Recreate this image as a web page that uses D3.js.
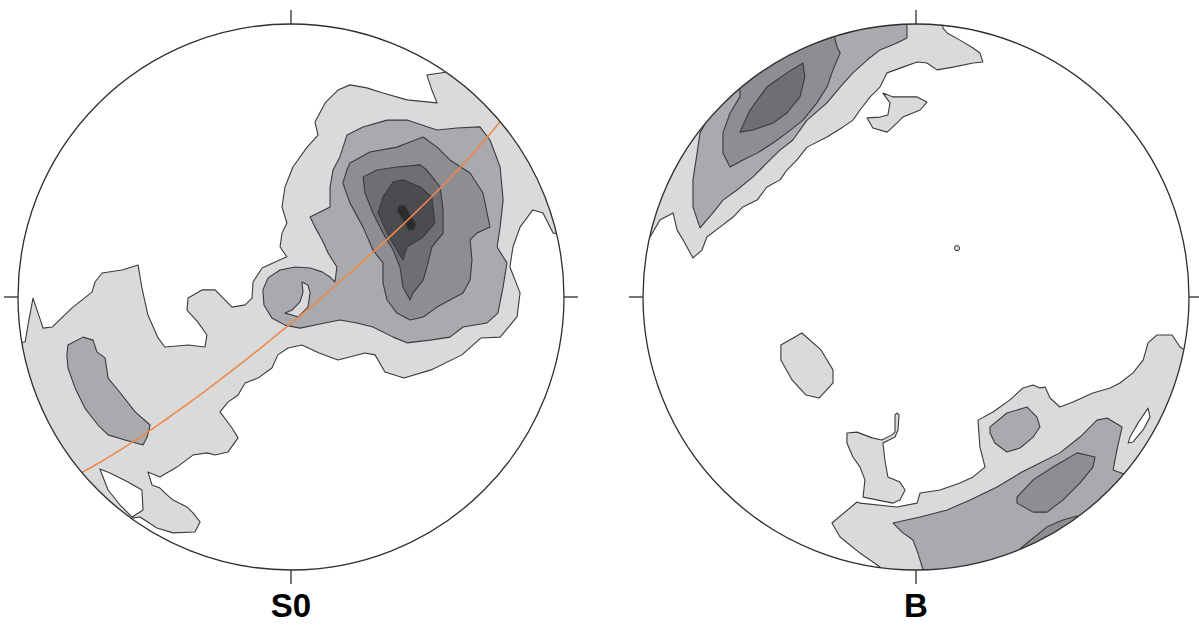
<!DOCTYPE html>
<html>
<head>
<meta charset="utf-8">
<script src="https://cdn.jsdelivr.net/npm/d3@7"></script>
<style>
  body { margin: 0; background: #fff; }
  .net--label { font-family: "Liberation Sans", Arial, sans-serif; font-weight: bold; font-size: 33px; }
</style>
</head>
<body>
<div id="chart"></div>
<script>
// Stereonets: contour polygons in net units (unit circle, north up)
const netLabels = ["S0", "B"];

// --- S0 contours ---
const s0Level1 = [[0.571,0.824],[0.637,0.905],[1.132,0.538],[1.077,0.227],[0.960,0.234],[0.923,0.308],[0.886,0.319],[0.839,0.256],[0.813,0.183],[0.802,0.110],[0.839,0.015],[0.828,-0.073],[0.766,-0.147],[0.696,-0.150],[0.626,-0.212],[0.513,-0.267],[0.414,-0.297],[0.344,-0.275],[0.308,-0.212],[0.271,-0.205],[0.172,-0.231],[0.103,-0.205],[0.040,-0.176],[-0.011,-0.187],[-0.048,-0.212],[-0.070,-0.260],[-0.121,-0.297],[-0.168,-0.315],[-0.194,-0.359],[-0.231,-0.385],[-0.260,-0.421],[-0.216,-0.480],[-0.194,-0.516],[-0.231,-0.568],[-0.278,-0.579],[-0.308,-0.571],[-0.359,-0.579],[-0.418,-0.623],[-0.480,-0.659],[-0.524,-0.641],[-0.509,-0.689],[-0.480,-0.700],[-0.454,-0.725],[-0.432,-0.744],[-0.381,-0.769],[-0.359,-0.791],[-0.333,-0.824],[-0.352,-0.861],[-0.432,-0.864],[-0.491,-0.846],[-0.553,-0.806],[-0.582,-0.810],[-0.663,-0.908],[-0.993,-0.560],[-1.066,-0.176],[-0.974,-0.165],[-0.960,-0.084],[-0.945,-0.004],[-0.908,-0.114],[-0.875,-0.110],[-0.802,-0.040],[-0.729,0.018],[-0.718,0.055],[-0.692,0.088],[-0.619,0.099],[-0.560,0.117],[-0.546,0.033],[-0.524,-0.066],[-0.487,-0.150],[-0.462,-0.183],[-0.377,-0.176],[-0.315,-0.183],[-0.308,-0.139],[-0.341,-0.092],[-0.381,-0.048],[-0.377,-0.004],[-0.326,0.026],[-0.278,0.026],[-0.216,-0.037],[-0.168,-0.029],[-0.143,-0.004],[-0.139,0.055],[-0.106,0.106],[-0.040,0.136],[-0.015,0.147],[-0.040,0.183],[-0.033,0.234],[-0.015,0.271],[-0.033,0.330],[-0.022,0.403],[0.007,0.476],[0.059,0.549],[0.099,0.593],[0.088,0.641],[0.125,0.711],[0.172,0.758],[0.216,0.777],[0.278,0.766],[0.337,0.747],[0.425,0.722],[0.535,0.711],[0.516,0.758],[0.498,0.813]];
const s0Hole = [[-0.700,-0.630],[-0.663,-0.645],[-0.597,-0.678],[-0.546,-0.707],[-0.542,-0.780],[-0.582,-0.806],[-0.626,-0.762],[-0.670,-0.707]];
const s0Level2 = [[0.161,0.055],[0.168,0.110],[0.136,0.161],[0.114,0.209],[0.088,0.256],[0.070,0.293],[0.143,0.330],[0.143,0.403],[0.154,0.465],[0.179,0.513],[0.205,0.593],[0.264,0.623],[0.352,0.648],[0.425,0.648],[0.535,0.612],[0.608,0.619],[0.692,0.623],[0.729,0.575],[0.766,0.476],[0.777,0.355],[0.766,0.256],[0.755,0.183],[0.791,0.125],[0.777,0.037],[0.758,-0.059],[0.718,-0.095],[0.630,-0.110],[0.582,-0.147],[0.509,-0.158],[0.425,-0.168],[0.374,-0.147],[0.300,-0.110],[0.242,-0.095],[0.179,-0.084],[0.106,-0.099],[0.033,-0.114],[-0.022,-0.103],[-0.070,-0.077],[-0.099,-0.029],[-0.103,0.026],[-0.084,0.070],[-0.040,0.099],[0.015,0.110],[0.070,0.106],[0.114,0.092],[0.143,0.073]];
const s0Crescent = [[0.040,0.055],[0.062,0.044],[0.070,0.015],[0.062,-0.037],[0.026,-0.073],[0.004,-0.066],[-0.022,-0.059],[0.004,-0.048],[0.033,-0.018],[0.044,0.018]];
const s0Band = [[-0.817,-0.176],[-0.762,-0.147],[-0.725,-0.158],[-0.711,-0.201],[-0.681,-0.223],[-0.670,-0.297],[-0.619,-0.359],[-0.571,-0.421],[-0.516,-0.469],[-0.527,-0.513],[-0.542,-0.542],[-0.582,-0.531],[-0.608,-0.524],[-0.670,-0.505],[-0.707,-0.469],[-0.755,-0.407],[-0.791,-0.333],[-0.817,-0.260],[-0.821,-0.212]];
const s0Level3 = [[0.216,0.491],[0.289,0.531],[0.388,0.549],[0.436,0.568],[0.484,0.586],[0.535,0.549],[0.582,0.502],[0.656,0.454],[0.703,0.381],[0.729,0.256],[0.681,0.234],[0.656,0.209],[0.663,0.136],[0.656,0.062],[0.630,0.015],[0.582,-0.011],[0.535,-0.037],[0.484,-0.073],[0.436,-0.084],[0.388,-0.059],[0.352,-0.011],[0.337,0.051],[0.337,0.125],[0.300,0.172],[0.264,0.256],[0.216,0.344],[0.190,0.418],[0.205,0.465]];
const s0Level4 = [[0.264,0.440],[0.315,0.465],[0.388,0.476],[0.473,0.484],[0.498,0.465],[0.546,0.403],[0.557,0.319],[0.557,0.234],[0.516,0.183],[0.498,0.110],[0.484,0.062],[0.447,0.015],[0.436,-0.011],[0.410,0.037],[0.399,0.110],[0.374,0.172],[0.337,0.234],[0.300,0.308],[0.271,0.381]];
const s0Level5 = [[0.374,0.421],[0.410,0.429],[0.473,0.403],[0.516,0.366],[0.527,0.271],[0.484,0.220],[0.425,0.183],[0.410,0.136],[0.388,0.172],[0.352,0.234],[0.319,0.308],[0.337,0.366]];
const s0Level6 = [[0.399,0.337],[0.418,0.333],[0.458,0.264],[0.447,0.245],[0.432,0.245],[0.388,0.319]];
const s0Plane = { strike: 50, dip: 84 };

// --- B contours ---
const bLevel1Top = [[0.099,0.985],[0.114,0.967],[0.161,0.941],[0.209,0.912],[0.234,0.894],[0.245,0.861],[0.209,0.857],[0.136,0.842],[0.077,0.832],[0.040,0.857],[0.004,0.861],[-0.048,0.842],[-0.106,0.821],[-0.132,0.769],[-0.168,0.733],[-0.205,0.685],[-0.231,0.648],[-0.267,0.623],[-0.326,0.586],[-0.399,0.549],[-0.436,0.502],[-0.473,0.465],[-0.498,0.429],[-0.546,0.403],[-0.582,0.355],[-0.634,0.330],[-0.670,0.293],[-0.718,0.256],[-0.766,0.220],[-0.784,0.172],[-0.817,0.143],[-0.853,0.209],[-0.875,0.245],[-0.890,0.308],[-0.938,0.282],[-0.974,0.220],[-1.084,0.355],[-0.864,1.015],[0.088,1.088]];
const bLevel2Top = [[-0.033,1.015],[-0.033,0.949],[-0.070,0.930],[-0.132,0.905],[-0.179,0.868],[-0.231,0.821],[-0.278,0.769],[-0.326,0.711],[-0.399,0.648],[-0.451,0.575],[-0.498,0.538],[-0.546,0.491],[-0.597,0.440],[-0.656,0.392],[-0.707,0.355],[-0.744,0.308],[-0.791,0.253],[-0.817,0.330],[-0.817,0.429],[-0.802,0.527],[-0.791,0.601],[-0.762,0.656],[-0.828,0.722],[-0.425,1.088]];
const bLevel3Top = [[-0.315,1.015],[-0.289,0.916],[-0.278,0.894],[-0.304,0.832],[-0.326,0.769],[-0.363,0.711],[-0.414,0.648],[-0.473,0.601],[-0.524,0.564],[-0.582,0.527],[-0.634,0.502],[-0.681,0.476],[-0.707,0.527],[-0.707,0.601],[-0.681,0.674],[-0.645,0.733],[-0.645,0.758],[-0.718,0.832]];
const bLevel4Top = [[-0.645,0.604],[-0.608,0.685],[-0.546,0.769],[-0.473,0.821],[-0.414,0.857],[-0.407,0.806],[-0.425,0.733],[-0.473,0.674],[-0.524,0.637],[-0.597,0.612]];
const bIslandTop = [[-0.121,0.747],[-0.084,0.733],[0.004,0.733],[0.040,0.714],[0.015,0.685],[-0.048,0.659],[-0.070,0.637],[-0.106,0.604],[-0.158,0.619],[-0.179,0.656],[-0.132,0.659],[-0.103,0.667],[-0.095,0.711]];
const bSpots = [[0.150,0.179]];
const bIslandOval = [[-0.495,-0.176],[-0.418,-0.132],[-0.348,-0.194],[-0.304,-0.267],[-0.304,-0.315],[-0.355,-0.370],[-0.403,-0.359],[-0.454,-0.304],[-0.495,-0.231]];
const bIslandStick = [[-0.253,-0.498],[-0.216,-0.495],[-0.161,-0.516],[-0.125,-0.524],[-0.088,-0.505],[-0.077,-0.495],[-0.077,-0.432],[-0.070,-0.425],[-0.062,-0.432],[-0.066,-0.487],[-0.077,-0.513],[-0.121,-0.535],[-0.114,-0.597],[-0.103,-0.659],[-0.059,-0.678],[-0.040,-0.707],[-0.059,-0.744],[-0.084,-0.755],[-0.194,-0.733],[-0.187,-0.670],[-0.205,-0.623],[-0.231,-0.586],[-0.253,-0.535]];
const bLevel1Bottom = [[-0.308,-0.828],[-0.216,-0.751],[-0.205,-0.755],[-0.070,-0.769],[0.004,-0.755],[0.015,-0.718],[0.088,-0.707],[0.161,-0.681],[0.209,-0.659],[0.253,-0.623],[0.234,-0.549],[0.227,-0.451],[0.282,-0.421],[0.344,-0.377],[0.392,-0.333],[0.429,-0.322],[0.454,-0.333],[0.473,-0.330],[0.491,-0.370],[0.527,-0.403],[0.575,-0.385],[0.648,-0.352],[0.711,-0.333],[0.747,-0.315],[0.795,-0.278],[0.832,-0.231],[0.850,-0.168],[0.883,-0.139],[0.938,-0.139],[0.967,-0.183],[1.040,-0.231],[0.857,-0.963],[-0.132,-1.110],[-0.132,-0.989],[-0.205,-0.938],[-0.278,-0.879]];
const bHole = [[0.850,-0.407],[0.857,-0.440],[0.832,-0.487],[0.795,-0.531],[0.777,-0.535],[0.784,-0.513],[0.813,-0.462]];
const bLevel2Bottom = [[-0.084,-0.828],[0.015,-0.806],[0.114,-0.780],[0.198,-0.744],[0.297,-0.696],[0.381,-0.645],[0.454,-0.608],[0.527,-0.571],[0.601,-0.513],[0.663,-0.451],[0.700,-0.443],[0.755,-0.476],[0.736,-0.560],[0.722,-0.634],[0.762,-0.648],[0.894,-0.817],[0.125,-1.110],[0.026,-1.000],[0.007,-0.938],[-0.011,-0.890],[-0.048,-0.864]];
const bLevel2Spot = [[0.271,-0.476],[0.333,-0.425],[0.407,-0.403],[0.443,-0.440],[0.454,-0.476],[0.429,-0.513],[0.381,-0.553],[0.333,-0.568],[0.289,-0.535],[0.271,-0.498]];
const bLevel3Spot = [[0.370,-0.733],[0.429,-0.670],[0.502,-0.623],[0.590,-0.571],[0.656,-0.586],[0.648,-0.623],[0.601,-0.681],[0.538,-0.744],[0.480,-0.788],[0.429,-0.788],[0.370,-0.755]];
const bLevel3Edge = [[0.381,-0.923],[0.407,-0.901],[0.480,-0.842],[0.538,-0.817],[0.590,-0.802],[0.674,-0.890],[0.454,-1.037]];

// contour level 0 = hole (white), 1..6 = increasing density
const netContours = {
  "S0": [
    { level: 1, pts: s0Level1 },
    { level: 0, pts: s0Hole },
    { level: 2, pts: s0Level2 },
    { level: 1, pts: s0Crescent },
    { level: 2, pts: s0Band },
    { level: 3, pts: s0Level3 },
    { level: 4, pts: s0Level4 },
    { level: 5, pts: s0Level5 },
    { level: 6, pts: s0Level6 }
  ],
  "B": [
    { level: 1, pts: bLevel1Top },
    { level: 2, pts: bLevel2Top },
    { level: 3, pts: bLevel3Top },
    { level: 4, pts: bLevel4Top },
    { level: 1, pts: bIslandTop },
    { level: 1, pts: bIslandOval },
    { level: 1, pts: bIslandStick },
    { level: 1, pts: bLevel1Bottom },
    { level: 0, pts: bHole },
    { level: 2, pts: bLevel2Bottom },
    { level: 2, pts: bLevel2Spot },
    { level: 3, pts: bLevel3Spot },
    { level: 3, pts: bLevel3Edge }
  ]
};
const netSpots = { "S0": [], "B": bSpots };
const netPlanes = { "S0": [s0Plane], "B": [] };
const tickAzimuths = [0, 90, 180, 270];

const width = 1199;
const height = 625;
const radius = 273;
const cy = 297;
const tickLength = 14;

const svg = d3.select("#chart")
    .append("svg")
    .attr("width", width)
    .attr("height", height);

const netX = d3.scalePoint()
    .domain(netLabels)
    .range([291, 916]);

const fillScale = d3.scaleOrdinal()
    .domain([0, 1, 2, 3, 4, 5, 6])
    .range(["#ffffff", "#d9dadc", "#a9aaae", "#8d8e92", "#6e6f73", "#4b4c50", "#2c2c2e"]);

// Title great circle of a plane, equal-area lower hemisphere
function greatCircle(strike, dip) {
    const rad = Math.PI / 180;
    const s = strike * rad, dd = (strike + 90) * rad, d = dip * rad;
    return d3.range(0, 181, 2).map(function(t) {
        const a = t * rad;
        const e = Math.cos(a) * Math.sin(s) + Math.sin(a) * Math.sin(dd) * Math.cos(d);
        const n = Math.cos(a) * Math.cos(s) + Math.sin(a) * Math.cos(dd) * Math.cos(d);
        const z = Math.sin(a) * Math.sin(d);
        const plunge = Math.asin(Math.min(1, z));
        const r = Math.SQRT2 * Math.sin((Math.PI / 2 - plunge) / 2);
        const h = Math.hypot(e, n) || 1;
        return [r * e / h, r * n / h];
    });
}

netLabels.forEach(function(label, i) {
    const cx = netX(label);

    const xScale = d3.scaleLinear().domain([-1, 1]).range([cx - radius, cx + radius]);
    const yScale = d3.scaleLinear().domain([-1, 1]).range([cy + radius, cy - radius]);

    const line = d3.line()
        .x(function(d) { return xScale(d[0]); })
        .y(function(d) { return yScale(d[1]); });

    const clipId = "clip-" + i;
    svg.append("clipPath")
        .attr("id", clipId)
        .append("circle")
        .attr("cx", cx)
        .attr("cy", cy)
        .attr("r", radius);

    const net = svg.append("g");
    const inner = net.append("g").attr("clip-path", `url(#${clipId})`);

    inner.selectAll("path.contour")
        .data(netContours[label])
        .enter()
        .append("path")
            .attr("class", "contour")
            .attr("d", function(d) { return line(d.pts) + "Z"; })
            .attr("fill", function(d) { return fillScale(d.level); })
            .attr("stroke", "#3a3a3a")
            .attr("stroke-width", 1.1)
            .attr("stroke-linejoin", "round");

    inner.selectAll("circle.spot")
        .data(netSpots[label])
        .enter()
        .append("circle")
            .attr("class", "spot")
            .attr("cx", function(d) { return xScale(d[0]); })
            .attr("cy", function(d) { return yScale(d[1]); })
            .attr("r", 2.6)
            .attr("fill", fillScale(1))
            .attr("stroke", "#3a3a3a")
            .attr("stroke-width", 1);

    inner.selectAll("path.plane")
        .data(netPlanes[label])
        .enter()
        .append("path")
            .attr("class", "plane")
            .attr("d", function(d) { return line(greatCircle(d.strike, d.dip)); })
            .attr("fill", "none")
            .attr("stroke", "#f0884a")
            .attr("stroke-width", 1.6);

    net.append("circle")
        .attr("cx", cx)
        .attr("cy", cy)
        .attr("r", radius)
        .attr("fill", "none")
        .attr("stroke", "#2e2e2e")
        .attr("stroke-width", 1.3);

    net.selectAll("line.tick")
        .data(tickAzimuths)
        .enter()
        .append("line")
            .attr("class", "tick")
            .attr("x1", function(d) { return cx + radius * Math.sin(d * Math.PI / 180); })
            .attr("y1", function(d) { return cy - radius * Math.cos(d * Math.PI / 180); })
            .attr("x2", function(d) { return cx + (radius + tickLength) * Math.sin(d * Math.PI / 180); })
            .attr("y2", function(d) { return cy - (radius + tickLength) * Math.cos(d * Math.PI / 180); })
            .attr("stroke", "#2e2e2e")
            .attr("stroke-width", 1.3);

    net.append("text")
        .attr("class", "net--label")
        .attr("x", cx)
        .attr("y", cy + radius + 47)
        .attr("text-anchor", "middle")
        .text(label);
});
</script>
</body>
</html>
